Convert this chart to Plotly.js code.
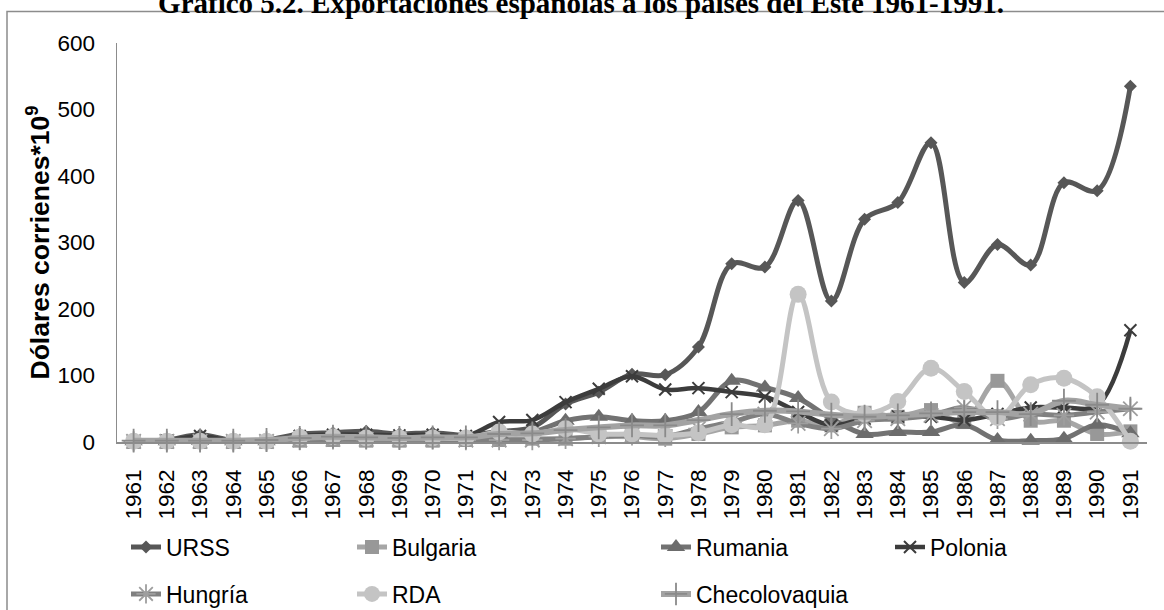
<!DOCTYPE html>
<html>
<head>
<meta charset="utf-8">
<script src="https://cdn.plot.ly/plotly-3.0.1.min.js"></script>
<style>html,body{margin:0;padding:0;background:#fff;}#chart{width:1164px;height:610px;}</style>
</head>
<body>
<div id="chart"></div>
<script>
const years = ["1961","1962","1963","1964","1965","1966","1967","1968","1969","1970","1971","1972","1973","1974","1975","1976","1977","1978","1979","1980","1981","1982","1983","1984","1985","1986","1987","1988","1989","1990","1991"];

const urss          = [2,3,11,2,3,12,14,16,12,14,10,16,22,57,75,102,101,143,268,263,363,212,335,360,450,240,297,266,390,378,535];
const bulgaria      = [0,0,0,0,0,2,3,2,2,2,3,3,5,5,8,8,5,12,22,25,32,25,44,38,48,30,92,32,32,12,16];
const rumania       = [1,1,2,1,1,3,5,5,5,5,4,12,15,32,38,32,32,45,92,82,66,35,12,15,15,26,3,2,5,26,13];
const polonia       = [1,2,9,1,1,9,11,11,10,11,9,30,33,60,80,99,79,81,75,68,45,25,35,38,38,33,42,52,52,55,168];
const hungria       = [1,1,1,1,1,3,4,4,4,4,3,3,3,5,8,10,8,20,30,42,28,20,32,35,40,52,35,42,40,45,50];
const rda           = [1,1,1,1,1,7,8,6,6,6,6,15,12,20,12,12,10,14,26,26,222,60,42,61,111,76,37,86,96,68,1];
const checolovaquia = [2,2,2,2,3,6,8,7,6,7,7,12,13,18,22,25,25,33,42,47,46,41,38,40,43,45,45,42,62,56,50];

const seriesNames = ["URSS","Bulgaria","Rumania","Polonia","Hungría","RDA","Checolovaquia"];
const seriesData = [urss, bulgaria, rumania, polonia, hungria, rda, checolovaquia];

const styles = [
  {lc:"#575757", lw:5, sym:"diamond", ms:10, mc:"#575757", mlw:0, leg:"legend"},
  {lc:"#a6a6a6", lw:5, sym:"square", ms:14, mc:"#989898", mlw:0, leg:"legend2"},
  {lc:"#727272", lw:5, sym:"triangle-up", ms:16, mc:"#6c6c6c", mlw:0, leg:"legend3"},
  {lc:"#3c3c3c", lw:4.5, sym:"x-thin-open", ms:12, mc:"#3c3c3c", mlw:2, leg:"legend4"},
  {lc:"#808080", lw:5, sym:"asterisk-open", ms:17, mc:"#9e9e9e", mlw:1.8, leg:"legend5"},
  {lc:"#c4c4c4", lw:5, sym:"circle", ms:17, mc:"#c4c4c4", mlw:0, leg:"legend6"},
  {lc:"#a3a3a3", lw:6, sym:"cross-thin-open", ms:17, mc:"#8a8a8a", mlw:1.8, leg:"legend7"}
];

const traces = seriesNames.map((name, i) => {
  const s = styles[i];
  return {
    type: "scatter",
    mode: "lines+markers",
    name: name,
    x: years,
    y: seriesData[i],
    cliponaxis: false,
    legend: s.leg,
    line: {color: s.lc, width: s.lw, shape: "spline", smoothing: 1},
    marker: {symbol: s.sym, size: s.ms, color: s.mc, line: {width: s.mlw, color: s.mc}}
  };
});

// plot area: x 117..1147, y 43..442
const W = 1164, H = 610;
const L = 117, R = 1147, T = 43, B = 442;
const px = v => (v - L) / (R - L);
const py = v => (B - v) / (B - T);

const legFont = {family: "Liberation Sans, Arial, sans-serif", size: 23, color: "#000"};
function leg(xpx, ypx) {
  return {x: xpx / W, y: 1 - ypx / H, xref: "container", yref: "container",
          xanchor: "left", yanchor: "middle", orientation: "h",
          bgcolor: "rgba(0,0,0,0)", borderwidth: 0, font: legFont, itemwidth: 30};
}

const layout = {
  width: W, height: H,
  paper_bgcolor: "#fff", plot_bgcolor: "#fff",
  margin: {l: L, r: W - R, t: T, b: H - B, pad: 0, autoexpand: false},
  showlegend: true,
  title: {
    text: "<b>Gráfico 5.2. Exportaciones españolas a los países del Este 1961-1991.</b>",
    font: {family: "Liberation Serif, Times New Roman, serif", size: 29, color: "#000"},
    x: 581 / W, xanchor: "center", xref: "container",
    y: 1 - 3 / H, yanchor: "middle", yref: "container"
  },
  xaxis: {
    type: "category", range: [-0.5, 30.5], fixedrange: true,
    showline: true, linecolor: "#8c8c8c", linewidth: 1.5,
    showgrid: false, zeroline: false, ticks: "", tickangle: -90,
    tickfont: {family: "Liberation Sans, Arial, sans-serif", size: 22.5, color: "#000"},
    ticklabelstandoff: 17
  },
  yaxis: {
    range: [0, 600], dtick: 100, fixedrange: true,
    showline: true, linecolor: "#8c8c8c", linewidth: 1.5,
    showgrid: false, zeroline: false, ticks: "",
    tickfont: {family: "Liberation Sans, Arial, sans-serif", size: 22.5, color: "#000"},
    ticklabelstandoff: 16,
    title: {text: "<b>Dólares corrienes*10<sup>9</sup></b>",
            font: {family: "Liberation Sans, Arial, sans-serif", size: 26.5, color: "#000"},
            standoff: 0}
  },
  legend:  leg(126, 547),
  legend2: leg(352, 547),
  legend3: leg(656, 547),
  legend4: leg(890, 547),
  legend5: leg(126, 594),
  legend6: leg(352, 594),
  legend7: leg(656, 594),
  shapes: [{
    type: "rect", xref: "paper", yref: "paper", layer: "below",
    x0: px(7), x1: px(1180), y0: py(640), y1: py(11.5),
    line: {color: "#8c8c8c", width: 1.5}, fillcolor: "rgba(0,0,0,0)"
  }]
};

Plotly.newPlot("chart", traces, layout, {staticPlot: true, displayModeBar: false});
</script>
</body>
</html>
